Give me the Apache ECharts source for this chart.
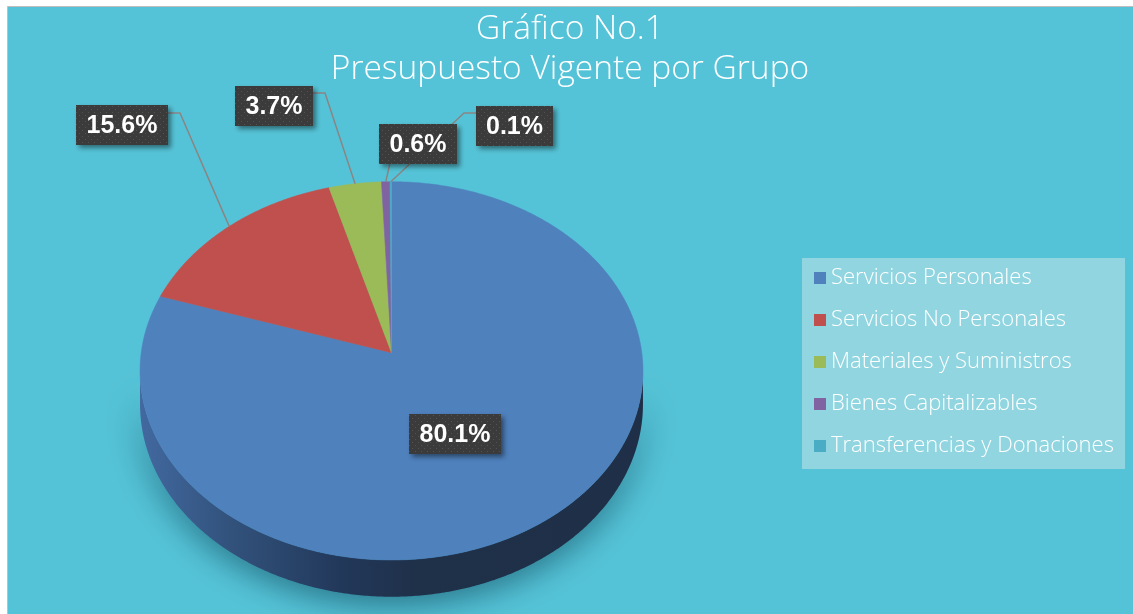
<!DOCTYPE html>
<html><head><meta charset="utf-8">
<script src="https://cdn.jsdelivr.net/npm/echarts@6/dist/echarts.min.js"></script>
<style>html,body{margin:0;padding:0;background:#fff}#c{width:1133px;height:614px}</style>
</head><body><div id="c"></div>
<script>
// ---- data ----
const categories = ['Servicios Personales', 'Servicios No Personales', 'Materiales y Suministros', 'Bienes Capitalizables', 'Transferencias y Donaciones'];
const values = [80.1, 15.6, 3.7, 0.6, 0.1];
const colors = ['#4f81bd', '#c0504d', '#9bbb59', '#8064a2', '#4bacc6'];
const titleText = 'Gráfico No.1\nPresupuesto Vigente por Grupo';

// ---- layout (pie projection + label boxes) ----
const GEO = { cx: 391.5, cy: 352.7, rx: 250.3, ry: 187.4, persp: 0.096, depth: 33.2 };
const LABEL_LAYOUT = [
  { box: [409, 414, 92, 40], leader: null },
  { box: [76, 105, 92, 40], leader: [[168, 113], [180, 113]] },
  { box: [235, 86, 78, 40], leader: [[313, 93], [325, 93]] },
  { box: [379, 124, 78, 40], leader: [[390, 163]] },
  { box: [476, 106, 77, 40], leader: [[476, 113], [464, 113]] }
];

const total = values.reduce((a, b) => a + b, 0);
const starts = [];
values.reduce((acc, v, i) => { starts[i] = acc; return acc + v; }, 0);

function proj(theta) {
  const u = Math.sin(theta), v = Math.cos(theta), w = 1 + GEO.persp * v;
  return [GEO.cx + GEO.rx * u / w, GEO.cy - GEO.ry * v / w, w];
}
function arcPts(t1, t2) {
  const n = Math.max(2, Math.ceil((t2 - t1) / (Math.PI / 360)));
  const pts = [];
  for (let k = 0; k <= n; k++) pts.push(proj(t1 + (t2 - t1) * k / n));
  return pts;
}

// dotted label texture
const pc = document.createElement('canvas');
pc.width = 6; pc.height = 6;
const pctx = pc.getContext('2d');
pctx.fillStyle = '#3b3b3b'; pctx.fillRect(0, 0, 6, 6);
pctx.fillStyle = '#525252'; pctx.fillRect(1, 1, 1, 1); pctx.fillRect(4, 4, 1, 1);

const sideGrad = new echarts.graphic.LinearGradient(0, 0, 1, 0, [
  { offset: 0, color: '#4269a0' },
  { offset: 0.18, color: '#32527c' },
  { offset: 0.4, color: '#22385a' },
  { offset: 0.55, color: '#1f3049' },
  { offset: 1, color: '#1e2f47' }
]);

function makeRender(i) {
  return function (params, api) {
    const val = api.value(0);
    const color = api.visual('color');
    const t1 = starts[i] / total * 2 * Math.PI;
    const t2 = (starts[i] + val) / total * 2 * Math.PI;
    const children = [];
    // side wall (front visible part)
    const vis1 = Math.acos(-GEO.persp), vis2 = 2 * Math.PI - vis1;
    const s1 = Math.max(t1, vis1), s2 = Math.min(t2, vis2);
    if (s2 > s1) {
      const top = arcPts(s1, s2);
      const bot = top.map(p => [p[0], p[1] + GEO.depth / p[2]]).reverse();
      children.push({
        type: 'polygon', z2: 1,
        shape: { points: top.map(p => [p[0], p[1]]).concat(bot) },
        style: { fill: sideGrad, shadowBlur: 34, shadowColor: 'rgba(0,45,65,0.6)', shadowOffsetY: 6 }
      });
    }
    // top face
    const pts = [[GEO.cx, GEO.cy]].concat(arcPts(t1, t2).map(p => [p[0], p[1]]));
    children.push({ type: 'polygon', z2: 2, shape: { points: pts }, style: { fill: color, stroke: color, lineWidth: 0.5 } });
    // label
    const L = LABEL_LAYOUT[i];
    if (L.leader) {
      const m = proj((t1 + t2) / 2);
      children.push({
        type: 'polyline', z2: 5,
        shape: { points: L.leader.concat([[m[0], m[1]]]) },
        style: { stroke: '#8a8585', lineWidth: 1.5, fill: null }
      });
    }
    const b = L.box;
    children.push({
      type: 'rect', z2: 10,
      shape: { x: b[0], y: b[1], width: b[2], height: b[3] },
      style: { fill: { image: pc, repeat: 'repeat' }, shadowBlur: 5, shadowOffsetX: 3, shadowOffsetY: 3, shadowColor: 'rgba(0,0,0,0.45)' }
    });
    children.push({
      type: 'text', z2: 11,
      style: {
        x: b[0] + b[2] / 2, y: b[1] + b[3] / 2 + 1,
        text: val.toFixed(1) + '%', fill: '#ffffff',
        font: 'bold 25px "Liberation Sans", Arial, sans-serif',
        align: 'center', verticalAlign: 'middle'
      }
    });
    return { type: 'group', children };
  };
}

const chart = echarts.init(document.getElementById('c'), null, { renderer: 'canvas' });
chart.setOption({
  backgroundColor: '#ffffff',
  animation: false,
  title: {
    text: titleText, left: 570, top: 9, textAlign: 'center', padding: 0,
    textStyle: { color: '#ffffff', fontFamily: 'Open Sans', fontWeight: 300, fontSize: 33.5, lineHeight: 40 }
  },
  legend: {
    orient: 'vertical', left: 814, top: 267, padding: 0,
    itemWidth: 12, itemHeight: 12, itemGap: 20, icon: 'rect',
    data: categories,
    textStyle: { color: '#ffffff', fontFamily: 'Open Sans', fontWeight: 300, fontSize: 22, lineHeight: 22 }
  },
  graphic: [
    { type: 'rect', z: -10, silent: true, shape: { x: 7.5, y: 6.5, width: 1200, height: 700 }, style: { fill: '#55c3d7', stroke: '#bfbfbf', lineWidth: 1 } },
    { type: 'rect', z: -9, silent: true, shape: { x: 802, y: 258, width: 323, height: 211 }, style: { fill: '#91d5e0' } }
  ],
  series: categories.map((name, i) => ({
    type: 'custom', name, coordinateSystem: 'none',
    itemStyle: { color: colors[i] },
    data: [values[i]],
    renderItem: makeRender(i)
  }))
});
</script></body></html>
